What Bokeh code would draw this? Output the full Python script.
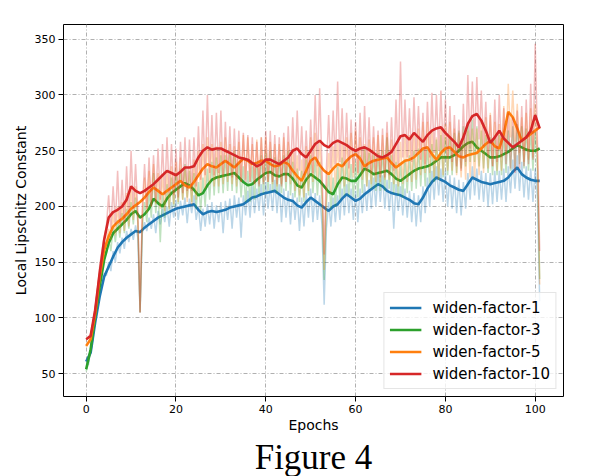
import numpy as np
from bokeh.plotting import figure
from bokeh.models import Range1d, Legend, LegendItem, Title, FixedTicker
from bokeh.embed import file_html
from bokeh.resources import INLINE

# ---------------- data ----------------
series_names = ["widen-factor-1", "widen-factor-3", "widen-factor-5", "widen-factor-10"]
x_ticks = [0, 20, 40, 60, 80, 100]
y_ticks = [50, 100, 150, 200, 250, 300, 350]
caption_text = "Figure 4"

epochs_smooth = list(range(102))          # 0 .. 101
epochs_raw = [i / 2 for i in range(203)]  # 0 .. 101, half-epoch steps

wf1_smooth = [61, 69, 96, 119, 137, 146, 155, 163, 168, 172,
              175, 178, 177, 181, 184, 187, 190, 192, 194, 196,
              198, 199, 200, 201, 202, 197, 193, 195, 196, 195,
              196, 197, 199, 200, 201, 202, 205, 208, 209, 211,
              212, 213, 214, 211, 208, 206, 205, 201, 199, 204,
              208, 205, 202, 199, 196, 200, 202, 207, 211, 208,
              205, 207, 211, 214, 217, 220, 218, 214, 212, 211,
              210, 208, 206, 203, 202, 208, 216, 222, 226, 224,
              222, 219, 217, 215, 214, 220, 226, 224, 222, 221,
              220, 221, 222, 223, 226, 231, 235, 229, 226, 224,
              223, 223]
wf3_smooth = [54, 72, 101, 128, 152, 167, 176, 180, 184, 188,
              193, 196, 190, 193, 198, 207, 203, 200, 207, 212,
              215, 218, 221, 219, 215, 210, 212, 219, 224, 226,
              227, 228, 229, 230, 226, 222, 219, 220, 224, 227,
              230, 231, 228, 227, 229, 229, 225, 219, 217, 224,
              229, 226, 223, 218, 213, 211, 220, 226, 225, 223,
              223, 228, 234, 232, 229, 230, 231, 232, 229, 225,
              223, 226, 229, 232, 234, 235, 236, 238, 241, 244,
              244, 244, 246, 250, 254, 257, 258, 253, 250, 247,
              244, 244, 245, 247, 249, 252, 255, 253, 251, 250,
              250, 252]
wf5_smooth = [75, 81, 104, 137, 161, 173, 182, 186, 189, 193,
              198, 201, 204, 208, 213, 217, 214, 211, 214, 217,
              220, 223, 219, 217, 222, 228, 234, 238, 236, 235,
              238, 241, 238, 235, 239, 243, 241, 238, 239, 241,
              241, 238, 236, 237, 240, 238, 232, 227, 223, 232,
              241, 244, 237, 232, 229, 234, 238, 236, 241, 245,
              247, 243, 236, 239, 241, 242, 243, 244, 239, 235,
              238, 241, 242, 244, 248, 252, 253, 247, 242, 248,
              252, 253, 249, 245, 244, 246, 247, 248, 252, 256,
              259, 254, 252, 265, 285, 280, 270, 259, 262, 265,
              268, 271]
wf10_smooth = [81, 84, 107, 140, 170, 190, 195, 197, 200, 206,
               218, 214, 212, 214, 217, 220, 224, 228, 232, 230,
               228, 231, 235, 235, 236, 244, 250, 253, 251, 252,
               252, 250, 248, 246, 244, 243, 242, 239, 236, 238,
               242, 242, 240, 238, 241, 244, 250, 252, 247, 244,
               250, 256, 259, 255, 253, 257, 259, 257, 255, 252,
               250, 252, 253, 251, 248, 245, 244, 246, 249, 256,
               263, 264, 260, 266, 262, 258, 264, 268, 270, 271,
               266, 262, 258, 253, 262, 274, 281, 283, 277, 268,
               257, 262, 268, 261, 257, 253, 256, 259, 262, 268,
               282, 270]

wf1_raw = [62, 58, 72, 80, 98, 110, 121, 128, 140, 138,
           150, 142, 160, 150, 168, 158, 172, 162, 178, 168,
           180, 170, 183, 172, 105, 176, 186, 178, 190, 180,
           193, 176, 196, 184, 198, 186, 200, 182, 204, 190,
           206, 188, 205, 192, 208, 185, 207, 194, 210, 188,
           200, 178, 198, 182, 202, 184, 204, 180, 201, 186,
           204, 176, 205, 188, 207, 180, 210, 190, 208, 172,
           210, 192, 214, 190, 218, 194, 216, 196, 220, 192,
           222, 198, 220, 196, 224, 194, 220, 186, 216, 190,
           214, 184, 212, 188, 208, 178, 208, 182, 212, 190,
           216, 186, 212, 188, 210, 184, 112, 180, 204, 182,
           208, 186, 210, 188, 216, 192, 220, 194, 216, 188,
           214, 186, 216, 194, 220, 196, 224, 198, 226, 200,
           230, 204, 228, 198, 224, 196, 222, 180, 220, 196,
           218, 192, 216, 190, 214, 186, 212, 182, 210, 186,
           218, 194, 226, 200, 232, 206, 236, 210, 234, 204,
           232, 200, 228, 198, 226, 194, 224, 192, 222, 198,
           230, 206, 236, 210, 234, 206, 232, 204, 230, 200,
           230, 202, 232, 204, 232, 206, 234, 204, 236, 212,
           242, 216, 246, 214, 240, 208, 236, 206, 234, 204,
           234, 208, 115]
wf3_raw = [52, 60, 70, 88, 100, 118, 130, 142, 155, 158,
           172, 160, 182, 168, 188, 172, 194, 176, 198, 180,
           204, 184, 208, 186, 105, 182, 204, 186, 214, 190,
           230, 194, 216, 168, 212, 190, 220, 196, 226, 200,
           230, 202, 234, 206, 238, 208, 232, 204, 230, 198,
           222, 196, 226, 200, 234, 206, 240, 210, 244, 212,
           246, 212, 246, 214, 248, 214, 250, 212, 240, 208,
           236, 204, 232, 204, 236, 206, 240, 210, 246, 212,
           248, 214, 250, 214, 244, 212, 242, 212, 246, 214,
           250, 210, 240, 208, 234, 204, 232, 204, 242, 210,
           246, 212, 242, 210, 240, 206, 134, 202, 228, 198,
           226, 200, 236, 206, 244, 210, 240, 210, 238, 208,
           240, 208, 246, 212, 252, 218, 248, 216, 246, 214,
           248, 214, 250, 214, 262, 216, 246, 212, 240, 210,
           238, 208, 242, 212, 246, 214, 250, 216, 252, 218,
           252, 218, 254, 220, 256, 222, 260, 224, 264, 226,
           262, 228, 262, 228, 266, 230, 268, 234, 272, 236,
           276, 240, 278, 240, 272, 236, 268, 234, 264, 230,
           262, 228, 262, 228, 264, 228, 266, 230, 268, 232,
           272, 234, 274, 238, 272, 234, 270, 232, 268, 232,
           268, 234, 135]
wf5_raw = [74, 78, 82, 92, 106, 122, 140, 152, 166, 168,
           180, 170, 194, 174, 200, 176, 204, 178, 212, 182,
           216, 188, 218, 190, 105, 192, 226, 194, 232, 200,
           238, 202, 230, 198, 228, 196, 232, 198, 236, 202,
           240, 204, 244, 206, 236, 204, 234, 202, 242, 206,
           250, 212, 256, 216, 262, 220, 256, 218, 254, 218,
           258, 220, 262, 222, 256, 220, 254, 218, 258, 222,
           264, 224, 262, 222, 256, 220, 260, 220, 262, 222,
           262, 222, 258, 220, 256, 218, 256, 220, 262, 222,
           258, 220, 252, 214, 246, 210, 242, 208, 254, 214,
           262, 222, 266, 224, 258, 220, 143, 214, 248, 212,
           254, 216, 258, 220, 256, 218, 262, 222, 266, 226,
           268, 228, 262, 224, 256, 218, 260, 220, 262, 222,
           264, 222, 264, 224, 266, 224, 260, 220, 254, 218,
           258, 220, 262, 222, 264, 222, 266, 224, 270, 228,
           276, 230, 276, 230, 268, 226, 262, 224, 270, 228,
           274, 232, 276, 232, 270, 228, 266, 226, 266, 224,
           268, 226, 270, 226, 270, 228, 276, 230, 280, 234,
           284, 236, 276, 232, 274, 232, 290, 246, 310, 262,
           304, 258, 292, 248, 280, 240, 284, 242, 288, 244,
           292, 246, 130]
wf10_raw = [80, 82, 86, 96, 110, 126, 146, 160, 172, 182,
            210, 180, 218, 184, 232, 184, 224, 186, 236, 192,
            250, 198, 238, 196, 105, 198, 238, 198, 244, 200,
            246, 204, 252, 206, 256, 210, 262, 212, 256, 210,
            252, 208, 258, 212, 262, 214, 260, 214, 262, 218,
            272, 224, 286, 228, 300, 230, 282, 228, 284, 230,
            286, 228, 276, 228, 272, 226, 270, 224, 268, 222,
            266, 222, 264, 222, 262, 220, 258, 218, 262, 220,
            268, 222, 268, 222, 264, 220, 262, 218, 266, 222,
            272, 226, 280, 230, 286, 232, 272, 228, 268, 226,
            278, 230, 300, 236, 306, 238, 157, 234, 282, 234,
            286, 238, 312, 240, 288, 236, 284, 234, 278, 230,
            276, 230, 284, 232, 290, 232, 280, 230, 272, 228,
            268, 226, 270, 226, 276, 228, 280, 232, 296, 238,
            330, 244, 296, 244, 288, 240, 298, 246, 290, 242,
            284, 238, 294, 244, 302, 248, 300, 250, 304, 250,
            296, 244, 290, 240, 282, 236, 278, 232, 292, 240,
            318, 252, 312, 258, 316, 260, 304, 254, 294, 246,
            282, 236, 296, 240, 300, 244, 288, 238, 284, 234,
            280, 230, 286, 234, 290, 236, 296, 238, 310, 242,
            346, 258, 160]

colors = ["#1f77b4", "#2ca02c", "#ff7f0e", "#d62728"]
smooth_series = [wf1_smooth, wf3_smooth, wf5_smooth, wf10_smooth]
raw_series = [wf1_raw, wf3_raw, wf5_raw, wf10_raw]

# ---------------- figure ----------------
p = figure(width=590, height=476, output_backend="svg", toolbar_location=None,
           x_range=Range1d(-5.05, 106.3), y_range=Range1d(29.6, 363.2),
           min_border_left=63, min_border_top=24, min_border_right=27,
           min_border_bottom=79)
p.outline_line_color = "black"
p.outline_line_width = 1
p.background_fill_color = "white"
p.border_fill_color = "white"

p.xaxis.ticker = FixedTicker(ticks=x_ticks)
p.yaxis.ticker = FixedTicker(ticks=y_ticks)
for ax in (p.xaxis, p.yaxis):
    ax.axis_line_color = None
    ax.minor_tick_line_color = None
    ax.major_tick_in = 0
    ax.major_tick_out = 5
    ax.major_tick_line_color = "black"
    ax.major_label_text_font = "DejaVu Sans"
    ax.major_label_text_font_size = "11px"
    ax.major_label_text_color = "black"
    ax.major_label_standoff = 3
    ax.axis_label_text_font = "DejaVu Sans"
    ax.axis_label_text_font_size = "14px"
    ax.axis_label_text_font_style = "normal"
    ax.axis_label_text_color = "black"
    ax.axis_label_standoff = 3
p.xaxis.axis_label_standoff = 1
p.xaxis.axis_label = "Epochs"
p.yaxis.axis_label = "Local Lipschitz Constant"

p.grid.grid_line_color = "#b0b0b0"
p.grid.grid_line_dash = "4 2 1 2"
p.grid.grid_line_width = 1

items = []
for name, col, sm, rw in zip(series_names, colors, smooth_series, raw_series):
    p.line(epochs_raw, rw, line_color=col, line_alpha=0.3, line_width=1.5)
    r = p.line(epochs_smooth, sm, line_color=col, line_width=2.6)
    items.append(LegendItem(label=name, renderers=[r]))

legend = Legend(items=items, location="bottom_right",
                label_text_font="DejaVu Sans", label_text_font_size="15px",
                label_text_color="black",
                glyph_width=32, glyph_height=19, label_height=19,
                spacing=3, padding=5, margin=7, label_standoff=11,
                border_line_color="#cccccc", border_line_width=1,
                background_fill_color="white", background_fill_alpha=0.8)
p.add_layout(legend)

caption = Title(text=caption_text, align="center", text_font="Liberation Serif",
                text_font_size="35px", text_font_style="normal",
                text_color="black", standoff=0, offset=0)
p.add_layout(caption, "below")

open("out.html", "w").write(file_html(p, INLINE))
